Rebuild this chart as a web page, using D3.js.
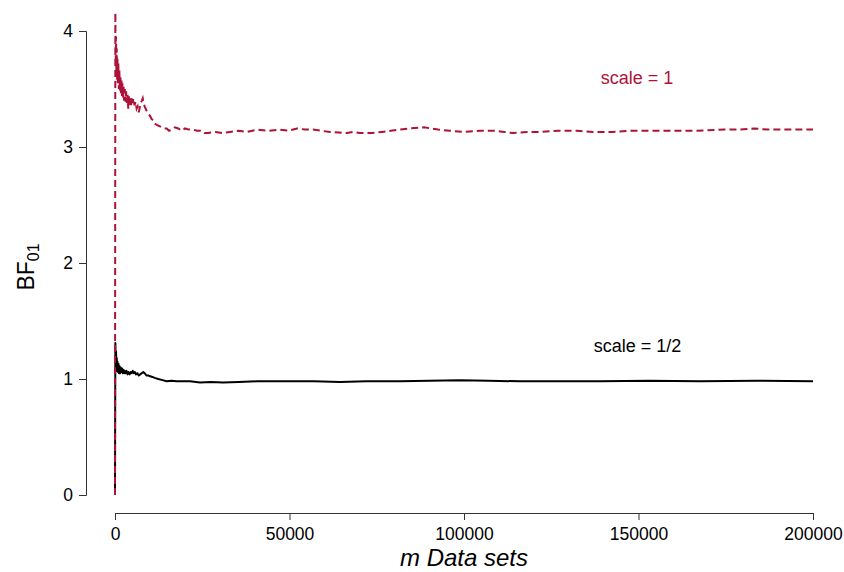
<!DOCTYPE html>
<html>
<head>
<meta charset="utf-8">
<script src="https://cdn.jsdelivr.net/npm/d3@7"></script>
<style>
  html, body { margin: 0; padding: 0; background: #fff; }
  svg { display: block; font-family: "Liberation Sans", Arial, sans-serif; }
</style>
</head>
<body>
<svg id="chart" width="844" height="572"></svg>
<script>
// Running Bayes factor BF01 as the number of data sets m grows, for two prior scales.
const mScale1 = [0, 100, 200, 300, 400, 500, 600, 700, 800, 950, 1100, 1250, 1400, 1550, 1700, 1850, 2000, 2150, 2300, 2450, 2600, 2800, 3000, 3200, 3400, 3600, 3800, 4000, 4200, 4400, 4600, 4800, 5000, 5300, 5600, 5900, 6200, 6500, 6800, 7100, 7400, 7700, 7950, 8200, 8500, 8800, 9100, 9400, 9700, 10000, 10500, 11000, 11500, 12000, 12700, 13380, 14100, 14810, 15500, 16250, 17200, 18140, 19100, 20060, 21200, 22350, 23500, 24500, 25600, 26650, 28800, 30950, 32950, 35400, 37820, 40690, 44000, 47280, 49700, 52150, 54500, 56730, 59000, 61600, 64000, 66470, 68300, 70200, 73640, 76500, 79000, 81800, 84530, 88540, 90500, 92550, 96000, 100000, 104500, 109170, 111500, 114040, 118000, 122000, 127000, 132380, 137000, 142400, 147280, 151000, 155000, 158500, 162170, 166000, 170000, 174500, 179080, 183000, 187100, 193000, 200000];
const bfScale1 = [0, 4.16, 3.70, 3.95, 3.62, 3.85, 3.58, 3.76, 3.55, 3.72, 3.50, 3.66, 3.48, 3.60, 3.46, 3.58, 3.44, 3.55, 3.42, 3.52, 3.40, 3.50, 3.39, 3.48, 3.38, 3.45, 3.33, 3.44, 3.36, 3.42, 3.35, 3.43, 3.38, 3.42, 3.36, 3.39, 3.33, 3.35, 3.30, 3.34, 3.38, 3.40, 3.42, 3.38, 3.35, 3.33, 3.31, 3.29, 3.28, 3.27, 3.24, 3.23, 3.20, 3.19, 3.18, 3.17, 3.16, 3.16, 3.14, 3.15, 3.17, 3.16, 3.14, 3.16, 3.15, 3.15, 3.14, 3.14, 3.12, 3.12, 3.13, 3.12, 3.13, 3.14, 3.13, 3.15, 3.14, 3.15, 3.14, 3.16, 3.15, 3.15, 3.14, 3.13, 3.125, 3.12, 3.13, 3.12, 3.12, 3.13, 3.14, 3.15, 3.16, 3.17, 3.16, 3.15, 3.14, 3.13, 3.14, 3.14, 3.13, 3.12, 3.13, 3.13, 3.14, 3.14, 3.13, 3.13, 3.14, 3.14, 3.14, 3.14, 3.14, 3.14, 3.145, 3.15, 3.15, 3.16, 3.15, 3.15, 3.15, 3.15];

const mScaleHalf = [0, 100, 200, 300, 400, 500, 600, 700, 850, 1000, 1150, 1300, 1450, 1600, 1800, 2000, 2200, 2400, 2600, 2800, 3000, 3300, 3600, 3900, 4200, 4500, 4800, 5100, 5400, 5700, 6000, 6400, 6800, 7200, 7700, 8100, 8500, 9000, 9500, 10500, 11400, 12400, 13600, 14800, 16200, 17680, 19500, 21490, 24360, 27500, 30950, 35500, 40690, 45500, 50140, 57000, 64470, 72000, 81660, 90000, 98850, 107000, 116050, 127000, 138970, 153000, 167620, 184000, 200000];
const bfScaleHalf = [0, 1.31, 1.15, 1.24, 1.08, 1.18, 1.07, 1.15, 1.06, 1.13, 1.05, 1.11, 1.05, 1.10, 1.06, 1.09, 1.05, 1.08, 1.05, 1.07, 1.05, 1.07, 1.04, 1.06, 1.04, 1.06, 1.05, 1.07, 1.05, 1.06, 1.04, 1.05, 1.03, 1.04, 1.05, 1.06, 1.05, 1.03, 1.03, 1.02, 1.01, 1.00, 0.99, 0.98, 0.985, 0.98, 0.98, 0.98, 0.97, 0.975, 0.97, 0.975, 0.98, 0.98, 0.98, 0.98, 0.975, 0.98, 0.98, 0.985, 0.99, 0.985, 0.98, 0.98, 0.98, 0.985, 0.98, 0.985, 0.98];

const xTicks = [0, 50000, 100000, 150000, 200000];
const yTicks = [0, 1, 2, 3, 4];

const seriesLabels = ["scale = 1", "scale = 1/2"];
const labelPositions = [[149600, 3.54], [149700, 1.23]];

const red = "#ae1238";
const svg = d3.select("#chart");

const x = d3.scaleLinear().domain([0, 200000]).range([115, 813]);
const y = d3.scaleLinear().domain([0, 4]).range([495, 31]);

// Y axis (detached, R style)
const yAxis = svg.append("g")
  .attr("transform", "translate(86,0)")
  .call(d3.axisLeft(y).tickValues(yTicks).tickFormat(d3.format("d")).tickSizeOuter(0).tickSize(7).tickPadding(6));
yAxis.selectAll("text").attr("font-size", 17.5).attr("fill", "#000").attr("font-family", "Liberation Sans, Arial, sans-serif");
yAxis.selectAll("line, path").attr("stroke", "#333").attr("stroke-width", 1);

// X axis
const xAxis = svg.append("g")
  .attr("transform", "translate(0,513)")
  .call(d3.axisBottom(x).tickValues(xTicks).tickFormat(d3.format("d")).tickSizeOuter(0).tickSize(7).tickPadding(8));
xAxis.selectAll("text").attr("font-size", 17.5).attr("fill", "#000").attr("font-family", "Liberation Sans, Arial, sans-serif");
xAxis.selectAll("line, path").attr("stroke", "#333").attr("stroke-width", 1);

// Axis titles
svg.append("text")
  .attr("x", 464).attr("y", 566)
  .attr("text-anchor", "middle")
  .attr("font-size", 24).attr("font-style", "italic")
  .text("m Data sets");

const yTitle = svg.append("text")
  .attr("transform", "translate(34,267) rotate(-90)")
  .attr("text-anchor", "middle")
  .attr("font-size", 23);
yTitle.append("tspan").text("BF");
yTitle.append("tspan").attr("font-size", 16).attr("dy", 5).text("01");

// Series lines
const line = d3.line().x(d => x(d[0])).y(d => y(d[1]));

svg.append("path")
  .datum(d3.zip(mScaleHalf, bfScaleHalf))
  .attr("fill", "none")
  .attr("stroke", "#000")
  .attr("stroke-width", 2)
  .attr("stroke-linejoin", "round")
  .attr("d", line);

svg.append("path")
  .datum(d3.zip(mScale1, bfScale1))
  .attr("fill", "none")
  .attr("stroke", red)
  .attr("stroke-width", 2)
  .attr("stroke-dasharray", "7,4")
  .attr("d", line);

// Series labels
svg.selectAll(".series-label")
  .data(seriesLabels)
  .enter().append("text")
  .attr("class", "series-label")
  .attr("x", (d, i) => x(labelPositions[i][0]))
  .attr("y", (d, i) => y(labelPositions[i][1]))
  .attr("text-anchor", "middle")
  .attr("font-size", 18)
  .attr("fill", (d, i) => i === 0 ? red : "#000")
  .text(d => d);
</script>
</body>
</html>
